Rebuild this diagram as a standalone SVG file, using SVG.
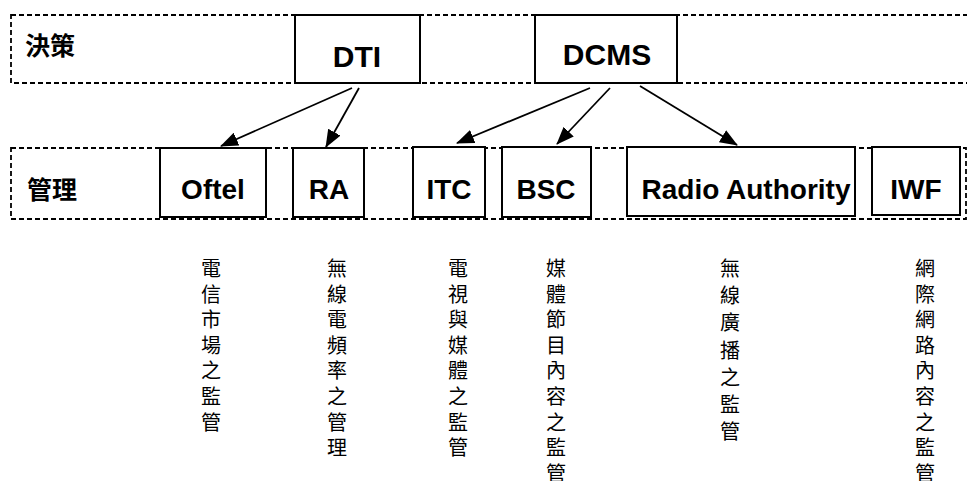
<svg xmlns="http://www.w3.org/2000/svg" width="967" height="481" viewBox="0 0 967 481">
<defs>
<style>
.band{fill:none;stroke:#000;stroke-width:1.8;stroke-dasharray:5 3}
.box{fill:#fff;stroke:#000;stroke-width:2}
.en{font-family:"Liberation Sans",Arial,sans-serif;font-weight:bold;fill:#000;text-anchor:middle}
.top{font-size:30px}
.low{font-size:28px}
.cjk{font-family:"Noto Sans CJK TC","Noto Sans CJK SC",sans-serif;fill:#000}
.lab{font-size:25px;font-weight:bold}
.vt{font-size:20px;text-anchor:middle}
.arr{fill:none;stroke:#000;stroke-width:1.8;marker-end:url(#ah)}
</style>
<marker id="ah" viewBox="0 0 18 14" refX="17" refY="7" markerWidth="18" markerHeight="14" markerUnits="userSpaceOnUse" orient="auto">
<path d="M0,0 L18,7 L0,14 z" fill="#000"/>
</marker>
</defs>
<rect width="967" height="481" fill="#fff"/>
<g id="band-policy">
<rect class="band" x="11" y="15" width="970" height="68"/>
<text class="cjk lab" x="25" y="55">決策</text>
</g>
<g id="band-admin">
<rect class="band" x="11" y="148" width="955" height="71"/>
<text class="cjk lab" x="27" y="199">管理</text>
</g>
<g id="node-DTI">
<rect class="box" x="295" y="15" width="125" height="68"/>
<text class="en top" x="357" y="67">DTI</text>
</g>
<g id="node-DCMS">
<rect class="box" x="535" y="15" width="142" height="68"/>
<text class="en top" x="607" y="65">DCMS</text>
</g>
<g id="node-Oftel">
<rect class="box" x="160" y="148" width="106" height="69"/>
<text class="en low" x="213" y="199">Oftel</text>
</g>
<g id="node-RA">
<rect class="box" x="293" y="148" width="71" height="69"/>
<text class="en low" x="329" y="199">RA</text>
</g>
<g id="node-ITC">
<rect class="box" x="413" y="147" width="72" height="70"/>
<text class="en low" x="449" y="199">ITC</text>
</g>
<g id="node-BSC">
<rect class="box" x="502" y="147" width="89" height="70"/>
<text class="en low" x="546" y="199">BSC</text>
</g>
<g id="node-RadioAuthority">
<rect class="box" x="627" y="147" width="228" height="69"/>
<text class="en low" x="746" y="199">Radio Authority</text>
</g>
<g id="node-IWF">
<rect class="box" x="872" y="147" width="88" height="68"/>
<text class="en low" x="916" y="199">IWF</text>
</g>
<g id="connectors">
<path class="arr" d="M352 88 L221 146"/>
<path class="arr" d="M359 88 L326 147"/>
<path class="arr" d="M590 88 L457 143"/>
<path class="arr" d="M610 88 L557 144"/>
<path class="arr" d="M640 86 L737 145"/>
</g>
<g id="desc-Oftel">
<text class="cjk vt"><tspan x="211" y="276">電</tspan><tspan x="211" y="301.6">信</tspan><tspan x="211" y="327.2">市</tspan><tspan x="211" y="352.8">場</tspan><tspan x="211" y="378.4">之</tspan><tspan x="211" y="404">監</tspan><tspan x="211" y="429.6">管</tspan></text>
</g>
<g id="desc-RA">
<text class="cjk vt"><tspan x="337" y="276">無</tspan><tspan x="337" y="301.6">線</tspan><tspan x="337" y="327.2">電</tspan><tspan x="337" y="352.8">頻</tspan><tspan x="337" y="378.4">率</tspan><tspan x="337" y="404">之</tspan><tspan x="337" y="429.6">管</tspan><tspan x="337" y="455.2">理</tspan></text>
</g>
<g id="desc-ITC">
<text class="cjk vt"><tspan x="458" y="276">電</tspan><tspan x="458" y="301.6">視</tspan><tspan x="458" y="327.2">與</tspan><tspan x="458" y="352.8">媒</tspan><tspan x="458" y="378.4">體</tspan><tspan x="458" y="404">之</tspan><tspan x="458" y="429.6">監</tspan><tspan x="458" y="455.2">管</tspan></text>
</g>
<g id="desc-BSC">
<text class="cjk vt"><tspan x="556" y="276">媒</tspan><tspan x="556" y="301.6">體</tspan><tspan x="556" y="327.2">節</tspan><tspan x="556" y="352.8">目</tspan><tspan x="556" y="378.4">內</tspan><tspan x="556" y="404">容</tspan><tspan x="556" y="429.6">之</tspan><tspan x="556" y="455.2">監</tspan><tspan x="556" y="480.8">管</tspan></text>
</g>
<g id="desc-RadioAuthority">
<text class="cjk vt"><tspan x="730" y="276">無</tspan><tspan x="730" y="303.2">線</tspan><tspan x="730" y="330.4">廣</tspan><tspan x="730" y="357.6">播</tspan><tspan x="730" y="384.8">之</tspan><tspan x="730" y="412">監</tspan><tspan x="730" y="439.2">管</tspan></text>
</g>
<g id="desc-IWF">
<text class="cjk vt"><tspan x="925" y="276">網</tspan><tspan x="925" y="301.6">際</tspan><tspan x="925" y="327.2">網</tspan><tspan x="925" y="352.8">路</tspan><tspan x="925" y="378.4">內</tspan><tspan x="925" y="404">容</tspan><tspan x="925" y="429.6">之</tspan><tspan x="925" y="455.2">監</tspan><tspan x="925" y="480.8">管</tspan></text>
</g>
</svg>
